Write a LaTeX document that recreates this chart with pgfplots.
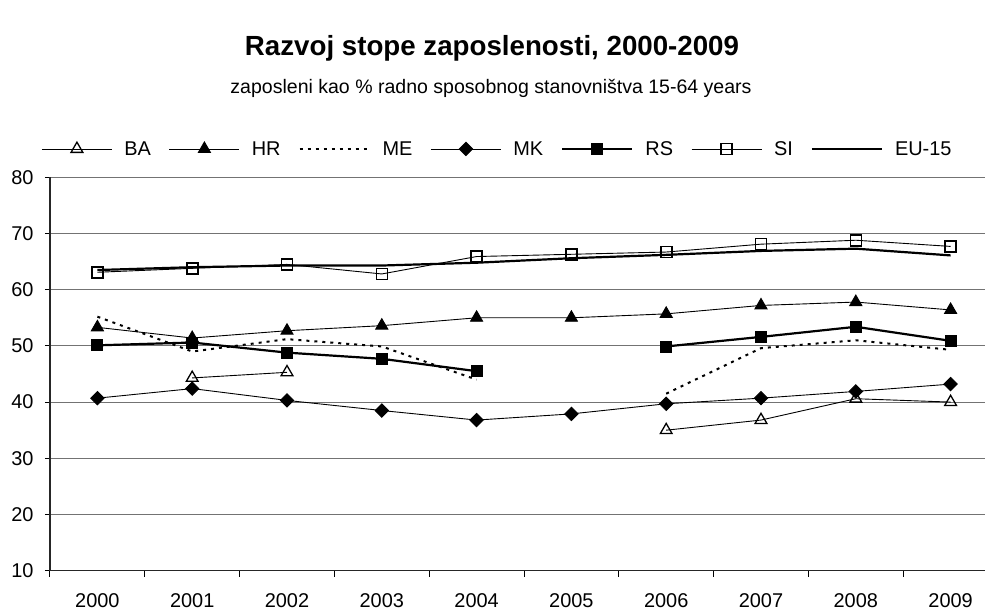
\documentclass[border=0pt]{standalone}
\usepackage{fontspec}
\setmainfont{Liberation Sans}
\usepackage{pgfplots}
\usepackage{pgfplotstable}
\usetikzlibrary{calc}
\pgfplotsset{compat=1.18}
\pgfplotstableread{
x BA HR ME MK RS SI EU
0 nan 53.3 55.2 40.7 50.1 63.1 63.5
1 44.3 51.4 49.0 42.4 50.6 63.8 64.0
2 45.3 52.7 51.2 40.3 48.8 64.5 64.3
3 nan 53.6 49.9 38.5 47.7 62.8 64.3
4 nan 55.0 44.0 36.8 45.5 65.9 64.8
5 nan 55.0 nan 37.9 nan 66.3 65.6
6 35.0 55.7 41.5 39.7 49.9 66.7 66.2
7 36.8 57.2 49.6 40.7 51.6 68.1 66.9
8 40.6 57.8 51.0 41.9 53.4 68.8 67.3
9 40.0 56.4 49.3 43.2 50.9 67.7 66.1
}\datatable
\begin{document}
\begin{tikzpicture}[x=1bp,y=1bp]
\begin{axis}[
  scale only axis, width=935bp, height=393.4bp,
  xmin=-0.5, xmax=9.363, ymin=10, ymax=80,
  axis lines*=left,
  axis line style={line width=1.2bp, black!85},
  xtick={0,...,9},
  xticklabels={2000,2001,2002,2003,2004,2005,2006,2007,2008,2009},
  minor xtick={-0.5,0.5,...,8.5},
  major x tick style={draw=none},
  minor tick length=6bp,
  major tick length=5bp,
  tick align=outside,
  tick style={line width=1bp, black},
  ytick={10,20,...,80},
  ymajorgrids,
  major grid style={line width=1bp, black!55},
  ticklabel style={font=\fontsize{20}{22}\selectfont},
  /pgf/number format/assume math mode=true,
  xticklabel style={yshift=-14bp},
  yticklabel style={xshift=-8bp},
  unbounded coords=jump,
  clip=false,
  legend columns=7,
  legend style={draw=none, fill=none, at={(0.4786,1.072)}, anchor=center,
    font=\fontsize{20}{22}\selectfont,
    /tikz/every odd column/.append style={column sep=10bp},
    /tikz/every even column/.append style={column sep=16bp}},
  legend image code/.code={\draw[mark repeat=2,mark phase=2,#1] plot coordinates {(0bp,0bp) (35bp,0bp) (70bp,0bp)};},
]
\addplot[black, line width=0.9bp, mark=triangle, mark size=6.8bp, mark options={fill=white, solid, line width=1.3bp}] table[x=x,y=BA] {\datatable};
\addlegendentry{BA}
\addplot[black, line width=0.9bp, mark=triangle*, mark size=7bp, mark options={solid}] table[x=x,y=HR] {\datatable};
\addlegendentry{HR}
\addplot[black, line width=2bp, dash pattern=on 3bp off 5bp] table[x=x,y=ME] {\datatable};
\addlegendentry{ME}
\addplot[black, line width=0.9bp, mark=square*, mark size=4.7bp, mark options={solid, rotate=45}] table[x=x,y=MK] {\datatable};
\addlegendentry{MK}
\addplot[black, line width=2.2bp, mark=square*, mark size=5.5bp, mark options={solid, line width=0.8bp}] table[x=x,y=RS] {\datatable};
\addlegendentry{RS}
\addplot[black, line width=0.9bp, mark=square, mark size=5.5bp, mark options={solid, fill=white, line width=1.6bp}] table[x=x,y=SI] {\datatable};
\addlegendentry{SI}
\addplot[black, line width=2.2bp] table[x=x,y=EU] {\datatable};
\addlegendentry{EU-15}
\coordinate (bl) at (rel axis cs:0,0);
\end{axis}
\node[font=\fontsize{27.8}{30}\selectfont\bfseries] at ($(bl)+(442,522)$) {Razvoj stope zaposlenosti, 2000-2009};
\node[font=\fontsize{19.6}{22}\selectfont] at ($(bl)+(441,482)$) {zaposleni kao \% radno sposobnog stanovništva 15-64 years};
\pgfresetboundingbox
\path[use as bounding box] ($(bl)+(-50,-41.3)$) rectangle ++(985,612);
\end{tikzpicture}
\end{document}
